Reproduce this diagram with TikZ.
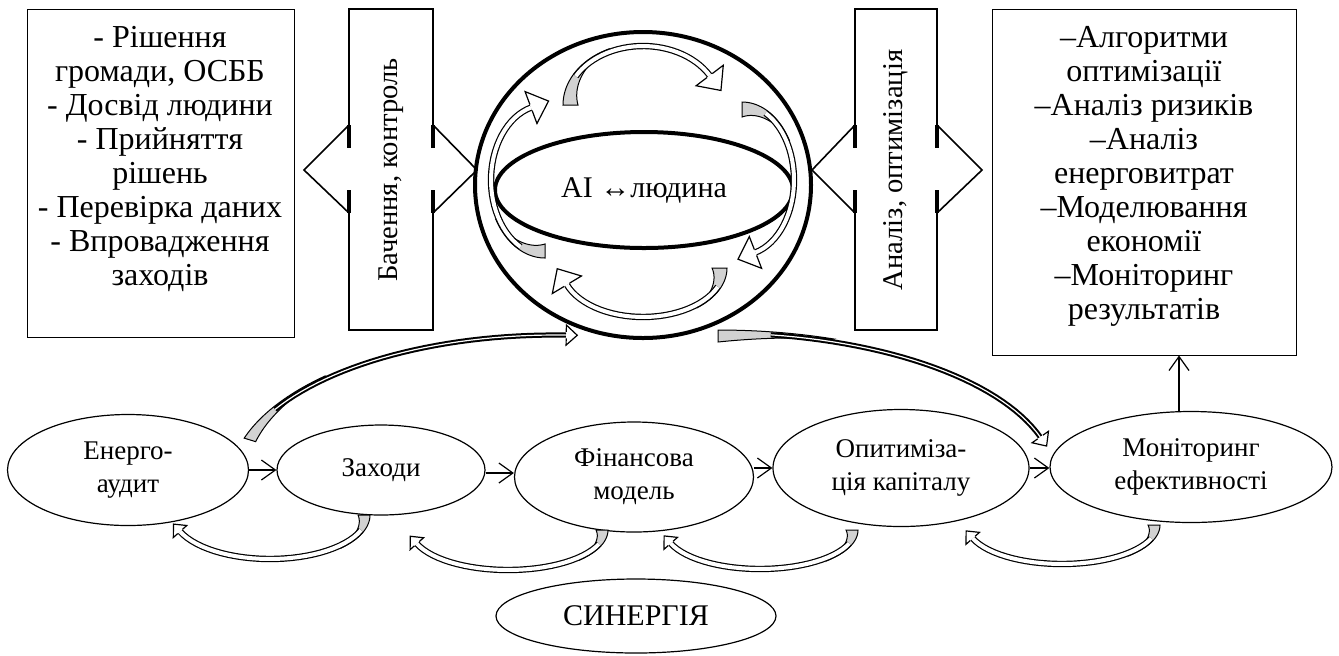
\documentclass[tikz,border=0pt]{standalone}
\usepackage{fontspec}
\setmainfont{Liberation Serif}
\usetikzlibrary{shapes.geometric,arrows.meta}
\newcommand{\wordarrow}[9]{%
  \pgfmathsetmacro\wats{#5+0.45*(#6-#5)}
  \pgfmathsetmacro\wasg{(#7>#5)*2-1}
  \pgfmathsetmacro\wahx{#1+(#3-3)*cos(#7)}
  \pgfmathsetmacro\wahy{#2+(#4-3)*sin(#7)}
  \pgfmathsetmacro\waux{-1*(\wasg)*(#3-3)*sin(#7)}
  \pgfmathsetmacro\wauy{(\wasg)*(#4-3)*cos(#7)}
  \pgfmathsetmacro\wal{veclen(\waux,\wauy)}
  \pgfmathsetmacro\waux{(\waux)/\wal}
  \pgfmathsetmacro\wauy{(\wauy)/\wal}
  \pgfmathsetmacro\wanx{-1*(\wauy)}
  \pgfmathsetmacro\wany{\waux}
  \filldraw[fill=gray!35, line width=0.5pt] plot[domain=#5:#6, samples=25] ({#1+#3*cos(\x)},{#2+#4*sin(\x)})
    -- plot[domain=#6:#5, samples=25] ({#1+(#3-#8*(#6-\x)/(#6-#5))*cos(\x)},{#2+(#4-#8*(#6-\x)/(#6-#5))*sin(\x)}) -- cycle;
  \draw[band] plot[domain=\wats:#7, samples=30] ({#1+(#3-3)*cos(\x)},{#2+(#4-3)*sin(\x)});
  \filldraw[fill=white, line width=0.6pt] ({\wahx+3.2*(\wanx)},{\wahy+3.2*(\wany)}) -- ({\wahx+#9*(\wanx)},{\wahy+#9*(\wany)})
    -- ({\wahx+1.1*#9*(\waux)},{\wahy+1.1*#9*(\wauy)}) -- ({\wahx-#9*(\wanx)},{\wahy-#9*(\wany)}) -- ({\wahx-3.2*(\wanx)},{\wahy-3.2*(\wany)});
}
\begin{document}
\begin{tikzpicture}[x=0.5pt, y=-0.5pt,
    box/.style={draw, line width=0.5pt},
    list/.style={align=center, font=\fontsize{16}{17}\selectfont},
    oval/.style={ellipse, draw, line width=0.6pt, inner sep=0pt, align=center, font=\fontsize{13.5}{16.5}\selectfont},
    band/.style={line width=0.6pt, double=white, double distance=2pt},
    flow/.style={line width=0.6pt, -{Straight Barb[length=7pt, width=10pt]}},
    shaft/.style={line width=1.3pt}]
    \useasboundingbox (0,0) rectangle (1339,655);
    \draw[box] (27,9) rectangle (294,337);
    \node[list] (needs) at (160,159) {- Рішення\\громади, ОСББ\\- Досвід людини\\- Прийняття\\рішень\\- Перевірка даних\\- Впровадження\\заходів};
    \node[box, minimum width=152pt, minimum height=173pt] (tools) at (1144,182) {};
    \node[list] (toolstext) at (1144,176) {–Алгоритми\\оптимізації\\–Аналіз ризиків\\–Аналіз\\енерговитрат\\–Моделювання\\економії\\–Моніторинг\\результатів};
    \draw[shaft] (349,148) -- (349,9) -- (433,9) -- (433,148) (349,190) -- (349,330) -- (433,330) -- (433,190);
    \draw[line width=0.8pt] (349,125) -- (304,170) -- (349,213) (433,125) -- (477,170) -- (433,213);
    \draw[line width=2pt] (349,125) -- (349,148) (349,190) -- (349,213) (433,125) -- (433,148) (433,190) -- (433,213);
    \node[rotate=90, font=\fontsize{14.3}{16}\selectfont] (vision) at (391,170) {Бачення, контроль};
    \draw[shaft] (855,148) -- (855,9) -- (937,9) -- (937,148) (855,190) -- (855,330) -- (937,330) -- (937,190);
    \draw[line width=0.8pt] (855,125) -- (812,170) -- (855,213) (937,125) -- (982,170) -- (937,213);
    \draw[line width=2pt] (855,125) -- (855,148) (855,190) -- (855,213) (937,125) -- (937,148) (937,190) -- (937,213);
    \node[rotate=90, font=\fontsize{14.3}{16}\selectfont] (analysis) at (896,170) {Аналіз, оптимізація};
    \node[ellipse, draw, line width=2pt, minimum width=168pt, minimum height=153pt] (globe) at (643,185) {};
    \node[ellipse, draw, line width=2pt, minimum width=149pt, minimum height=58pt, font=\fontsize{15}{17}\selectfont] (ai) at (644,190) {AI ↔людина};
    \wordarrow{643}{105}{80}{62}{180}{245}{330}{15}{17}
    \wordarrow{742}{180}{55}{78}{270}{330}{435}{15}{17}
    \wordarrow{643}{268}{84}{52}{0}{50}{160}{15}{17}
    \wordarrow{545}{180}{57}{78}{90}{150}{255}{14}{17}
    \node[oval, minimum width=120.5pt, minimum height=55.5pt] (audit) at (128,470) {Енерго-\\аудит};
    \node[oval, minimum width=104pt, minimum height=45pt] (measures) at (381,470) {Заходи};
    \node[oval, minimum width=119.5pt, minimum height=55pt] (finance) at (634,477) {Фінансова\\модель};
    \node[oval, minimum width=128pt, minimum height=58.5pt] (capital) at (901,468) {Опитиміза-\\ція капіталу};
    \node[oval, minimum width=141pt, minimum height=55.5pt] (monitor) at (1191,467) {Моніторинг\\ефективності};
    \node[oval, minimum width=140pt, minimum height=37pt, font=\fontsize{15}{18}\selectfont] (synergy) at (636,616) {СИНЕРГІЯ};
    \draw[flow] (audit.east) -- (audit.east -| measures.west);
    \draw[flow] ([yshift=-1.5pt]measures.east) -- ([yshift=-1.5pt]measures.east -| finance.west);
    \draw[flow] (finance.east |- capital.east) -- (capital.west);
    \draw[flow] (capital.east) -- (capital.east -| monitor.west);
    \draw[flow] ([xshift=-6pt]monitor.north) -- ([xshift=-6pt]monitor.north |- tools.south);
    \wordarrow{270}{515}{100}{47}{0}{45}{158}{12}{9}
    \wordarrow{508}{530}{100}{43}{0}{45}{160}{12}{9}
    \wordarrow{760}{530}{98}{42}{0}{45}{160}{12}{9}
    \wordarrow{1062}{525}{98}{42}{0}{45}{160}{12}{9}
    \begin{scope}[band/.style={line width=1pt, double=white, double distance=0.6pt}]
    \wordarrow{555}{482}{325}{150}{197}{225}{272}{12}{10}
    \wordarrow{718}{480}{340}{150}{270}{290}{343}{12}{10}
    \end{scope}
\end{tikzpicture}
\end{document}
